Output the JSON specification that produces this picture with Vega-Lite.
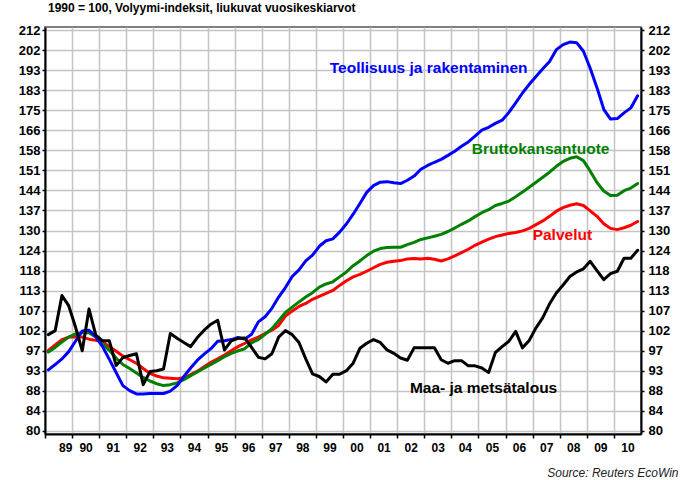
{
  "$schema": "https://vega.github.io/schema/vega-lite/v6.json",
  "width": 596,
  "height": 407,
  "autosize": {"type": "none"},
  "padding": {"left": 45, "top": 27, "right": 41, "bottom": 46},
  "background": "white",
  "title": {
    "text": "1990 = 100, Volyymi-indeksit, liukuvat vuosikeskiarvot",
    "anchor": "start",
    "frame": "group",
    "dx": 3,
    "offset": 9,
    "fontSize": 12,
    "font": "Liberation Sans",
    "fontWeight": "bold",
    "color": "#000000"
  },
  "config": {
    "view": {"stroke": "#555555", "strokeWidth": 1.5},
    "axis": {
      "labelFont": "Liberation Sans",
      "labelFontWeight": "bold",
      "labelColor": "#000000",
      "domainColor": "#000000",
      "domainWidth": 2,
      "tickColor": "#000000",
      "tickWidth": 1.5,
      "gridColor": "#c4c4c4",
      "gridWidth": 1.5
    }
  },
  "datasets": {
    "series": [
      {"t": 1989.125, "teo": 92.8, "bkt": 96.9, "pal": 97.3, "maa": 101.1},
      {"t": 1989.375, "teo": 94.0, "bkt": 98.0, "pal": 98.6, "maa": 102.1},
      {"t": 1989.625, "teo": 95.3, "bkt": 99.3, "pal": 99.9, "maa": 111.2},
      {"t": 1989.875, "teo": 97.0, "bkt": 100.5, "pal": 100.5, "maa": 108.5},
      {"t": 1990.125, "teo": 99.5, "bkt": 101.3, "pal": 100.6, "maa": 103.0},
      {"t": 1990.375, "teo": 102.0, "bkt": 101.6, "pal": 100.5, "maa": 97.2},
      {"t": 1990.625, "teo": 102.2, "bkt": 101.6, "pal": 100.0, "maa": 107.6},
      {"t": 1990.875, "teo": 100.6, "bkt": 100.5, "pal": 99.7, "maa": 101.0},
      {"t": 1991.125, "teo": 98.2, "bkt": 98.9, "pal": 99.3, "maa": 99.6},
      {"t": 1991.375, "teo": 95.2, "bkt": 97.3, "pal": 98.2, "maa": 99.6},
      {"t": 1991.625, "teo": 92.2, "bkt": 95.5, "pal": 97.1, "maa": 93.8},
      {"t": 1991.875, "teo": 89.3, "bkt": 94.0, "pal": 96.0, "maa": 95.6},
      {"t": 1992.125, "teo": 88.2, "bkt": 93.1, "pal": 95.1, "maa": 96.1},
      {"t": 1992.375, "teo": 87.5, "bkt": 92.1, "pal": 94.3, "maa": 96.5},
      {"t": 1992.625, "teo": 87.5, "bkt": 91.1, "pal": 93.1, "maa": 89.5},
      {"t": 1992.875, "teo": 87.6, "bkt": 90.3, "pal": 92.0, "maa": 92.4},
      {"t": 1993.125, "teo": 87.6, "bkt": 89.7, "pal": 91.4, "maa": 92.6},
      {"t": 1993.375, "teo": 87.6, "bkt": 89.3, "pal": 91.0, "maa": 93.0},
      {"t": 1993.625, "teo": 88.1, "bkt": 89.5, "pal": 90.9, "maa": 101.4},
      {"t": 1993.875, "teo": 89.3, "bkt": 89.9, "pal": 90.8, "maa": 100.2},
      {"t": 1994.125, "teo": 91.3, "bkt": 90.6, "pal": 91.0, "maa": 99.2},
      {"t": 1994.375, "teo": 93.2, "bkt": 91.5, "pal": 91.7, "maa": 98.2},
      {"t": 1994.625, "teo": 95.0, "bkt": 92.3, "pal": 92.5, "maa": 100.4},
      {"t": 1994.875, "teo": 96.4, "bkt": 93.2, "pal": 93.5, "maa": 102.2},
      {"t": 1995.125, "teo": 97.7, "bkt": 94.0, "pal": 94.5, "maa": 103.7},
      {"t": 1995.375, "teo": 99.5, "bkt": 94.9, "pal": 95.3, "maa": 104.7},
      {"t": 1995.625, "teo": 99.6, "bkt": 95.8, "pal": 96.2, "maa": 97.4},
      {"t": 1995.875, "teo": 99.9, "bkt": 96.6, "pal": 97.2, "maa": 99.6},
      {"t": 1996.125, "teo": 100.4, "bkt": 97.2, "pal": 98.2, "maa": 100.2},
      {"t": 1996.375, "teo": 100.0, "bkt": 97.7, "pal": 99.0, "maa": 100.3},
      {"t": 1996.625, "teo": 101.2, "bkt": 99.1, "pal": 99.8, "maa": 98.0},
      {"t": 1996.875, "teo": 104.3, "bkt": 99.9, "pal": 100.5, "maa": 95.7},
      {"t": 1997.125, "teo": 105.6, "bkt": 101.2, "pal": 101.4, "maa": 95.3},
      {"t": 1997.375, "teo": 107.8, "bkt": 102.6, "pal": 102.2, "maa": 96.5},
      {"t": 1997.625, "teo": 110.8, "bkt": 104.6, "pal": 103.4, "maa": 100.5},
      {"t": 1997.875, "teo": 113.4, "bkt": 106.7, "pal": 105.8, "maa": 102.1},
      {"t": 1998.125, "teo": 116.5, "bkt": 108.1, "pal": 107.1, "maa": 101.1},
      {"t": 1998.375, "teo": 118.4, "bkt": 109.5, "pal": 108.3, "maa": 99.2},
      {"t": 1998.625, "teo": 121.0, "bkt": 110.8, "pal": 109.1, "maa": 95.3},
      {"t": 1998.875, "teo": 122.7, "bkt": 112.0, "pal": 110.2, "maa": 91.9},
      {"t": 1999.125, "teo": 125.4, "bkt": 113.5, "pal": 111.0, "maa": 91.3},
      {"t": 1999.375, "teo": 127.1, "bkt": 114.4, "pal": 111.8, "maa": 90.1},
      {"t": 1999.625, "teo": 127.7, "bkt": 115.0, "pal": 112.6, "maa": 91.8},
      {"t": 1999.875, "teo": 129.8, "bkt": 116.4, "pal": 114.0, "maa": 91.8},
      {"t": 2000.125, "teo": 132.4, "bkt": 117.8, "pal": 115.3, "maa": 92.6},
      {"t": 2000.375, "teo": 135.6, "bkt": 119.6, "pal": 116.4, "maa": 94.3},
      {"t": 2000.625, "teo": 139.2, "bkt": 121.0, "pal": 117.1, "maa": 97.8},
      {"t": 2000.875, "teo": 143.0, "bkt": 122.6, "pal": 118.0, "maa": 99.0},
      {"t": 2001.125, "teo": 145.4, "bkt": 123.9, "pal": 119.0, "maa": 99.9},
      {"t": 2001.375, "teo": 146.6, "bkt": 124.7, "pal": 120.0, "maa": 99.2},
      {"t": 2001.625, "teo": 146.8, "bkt": 125.0, "pal": 120.6, "maa": 97.4},
      {"t": 2001.875, "teo": 146.4, "bkt": 125.1, "pal": 120.9, "maa": 96.6},
      {"t": 2002.125, "teo": 146.1, "bkt": 125.1, "pal": 121.1, "maa": 95.5},
      {"t": 2002.375, "teo": 147.3, "bkt": 125.9, "pal": 121.6, "maa": 95.0},
      {"t": 2002.625, "teo": 148.8, "bkt": 126.6, "pal": 121.7, "maa": 97.9},
      {"t": 2002.875, "teo": 151.3, "bkt": 127.5, "pal": 121.6, "maa": 97.9},
      {"t": 2003.125, "teo": 152.7, "bkt": 128.0, "pal": 121.8, "maa": 97.9},
      {"t": 2003.375, "teo": 153.9, "bkt": 128.5, "pal": 121.5, "maa": 97.9},
      {"t": 2003.625, "teo": 155.0, "bkt": 129.1, "pal": 121.0, "maa": 95.1},
      {"t": 2003.875, "teo": 156.5, "bkt": 130.0, "pal": 121.6, "maa": 94.3},
      {"t": 2004.125, "teo": 158.1, "bkt": 131.1, "pal": 122.5, "maa": 94.9},
      {"t": 2004.375, "teo": 160.0, "bkt": 132.3, "pal": 123.5, "maa": 94.9},
      {"t": 2004.625, "teo": 161.7, "bkt": 133.4, "pal": 124.5, "maa": 93.7},
      {"t": 2004.875, "teo": 164.0, "bkt": 134.8, "pal": 125.7, "maa": 93.7},
      {"t": 2005.125, "teo": 166.4, "bkt": 136.1, "pal": 126.7, "maa": 93.2},
      {"t": 2005.375, "teo": 167.6, "bkt": 137.1, "pal": 127.6, "maa": 92.2},
      {"t": 2005.625, "teo": 169.2, "bkt": 138.5, "pal": 128.4, "maa": 96.8},
      {"t": 2005.875, "teo": 170.5, "bkt": 139.2, "pal": 128.9, "maa": 98.2},
      {"t": 2006.125, "teo": 173.8, "bkt": 140.0, "pal": 129.4, "maa": 99.5},
      {"t": 2006.375, "teo": 177.9, "bkt": 141.5, "pal": 129.7, "maa": 101.9},
      {"t": 2006.625, "teo": 182.2, "bkt": 143.1, "pal": 130.2, "maa": 97.9},
      {"t": 2006.875, "teo": 186.1, "bkt": 144.8, "pal": 131.0, "maa": 99.7},
      {"t": 2007.125, "teo": 189.7, "bkt": 146.6, "pal": 132.2, "maa": 102.8},
      {"t": 2007.375, "teo": 193.3, "bkt": 148.4, "pal": 133.4, "maa": 105.4},
      {"t": 2007.625, "teo": 196.7, "bkt": 150.2, "pal": 134.9, "maa": 109.0},
      {"t": 2007.875, "teo": 202.5, "bkt": 152.4, "pal": 136.6, "maa": 111.9},
      {"t": 2008.125, "teo": 205.0, "bkt": 154.2, "pal": 137.8, "maa": 114.1},
      {"t": 2008.375, "teo": 206.3, "bkt": 155.4, "pal": 138.6, "maa": 116.5},
      {"t": 2008.625, "teo": 206.0, "bkt": 156.0, "pal": 139.1, "maa": 117.8},
      {"t": 2008.875, "teo": 201.7, "bkt": 154.5, "pal": 138.5, "maa": 118.7},
      {"t": 2009.125, "teo": 193.5, "bkt": 150.6, "pal": 136.7, "maa": 120.9},
      {"t": 2009.375, "teo": 184.6, "bkt": 146.5, "pal": 134.9, "maa": 118.2},
      {"t": 2009.625, "teo": 175.1, "bkt": 143.5, "pal": 132.5, "maa": 115.6},
      {"t": 2009.875, "teo": 171.0, "bkt": 141.9, "pal": 131.0, "maa": 117.3},
      {"t": 2010.125, "teo": 171.2, "bkt": 142.0, "pal": 130.6, "maa": 118.0},
      {"t": 2010.375, "teo": 173.6, "bkt": 143.6, "pal": 131.2, "maa": 121.8},
      {"t": 2010.625, "teo": 175.7, "bkt": 144.5, "pal": 132.0, "maa": 121.8},
      {"t": 2010.875, "teo": 181.0, "bkt": 146.1, "pal": 133.2, "maa": 124.2}
    ],
    "labels": [
      {"t": 1999.51, "v": 193.5, "label": "Teollisuus ja rakentaminen"},
      {"t": 2004.75, "v": 159.1, "label": "Bruttokansantuote"},
      {"t": 2007.0, "v": 129.0, "label": "Palvelut"},
      {"t": 2002.47, "v": 88.8, "label": "Maa- ja metsätalous"}
    ]
  },
  "resolve": {"scale": {"y": "shared", "x": "shared"}, "axis": {"y": "independent", "x": "independent"}},
  "layer": [
    {
      "data": {"name": "series"},
      "mark": {"type": "line", "color": "#ff0000", "strokeWidth": 3, "strokeJoin": "round", "strokeCap": "round"},
      "encoding": {
        "x": {
          "field": "t", "type": "quantitative",
          "scale": {"domain": [1989, 2011], "nice": false, "zero": false},
          "axis": {
            "orient": "bottom",
            "title": "Source: Reuters EcoWin",
            "titleFont": "Liberation Sans",
            "titleFontStyle": "italic",
            "titleFontWeight": "normal",
            "titleFontSize": 12,
            "titleColor": "#222222",
            "titleAlign": "right",
            "titleAnchor": "end",
            "titleX": 633,
            "titleY": 42,
            "titleBaseline": "alphabetic",
            "values": [1989, 1990, 1991, 1992, 1993, 1994, 1995, 1996, 1997, 1998, 1999, 2000, 2001, 2002, 2003, 2004, 2005, 2006, 2007, 2008, 2009, 2010],
            "labelExpr": "format(datum.value % 100, '02d')",
            "labelOffset": 13.5,
            "labelFontSize": 12,
            "labelPadding": 4,
            "tickSize": 4,
            "grid": true
          }
        },
        "y": {
          "field": "pal", "type": "quantitative",
          "scale": {"type": "log", "domain": [79.36, 214.0], "nice": false, "zero": false},
          "axis": {
            "orient": "left",
            "title": null,
            "values": [80, 84, 88.2, 92.61, 97.24, 102.1, 107.2, 112.57, 118.2, 124.11, 130.31, 136.83, 143.67, 150.86, 158.4, 166.32, 174.63, 183.36, 192.53, 202.16, 212.26],
            "format": ".0f",
            "labelFontSize": 13,
            "labelPadding": 2,
            "tickSize": 3,
            "grid": true
          }
        }
      }
    },
    {
      "data": {"name": "series"},
      "mark": {"type": "line", "color": "#008000", "strokeWidth": 3, "strokeJoin": "round", "strokeCap": "round"},
      "encoding": {
        "x": {"field": "t", "type": "quantitative", "axis": null},
        "y": {
          "field": "bkt", "type": "quantitative",
          "axis": {
            "orient": "right",
            "title": null,
            "values": [80, 84, 88.2, 92.61, 97.24, 102.1, 107.2, 112.57, 118.2, 124.11, 130.31, 136.83, 143.67, 150.86, 158.4, 166.32, 174.63, 183.36, 192.53, 202.16, 212.26],
            "format": ".0f",
            "labelFontSize": 13,
            "labelPadding": 4,
            "tickSize": 3,
            "grid": false
          }
        }
      }
    },
    {
      "data": {"name": "series"},
      "mark": {"type": "line", "color": "#0000ff", "strokeWidth": 3, "strokeJoin": "round", "strokeCap": "round"},
      "encoding": {
        "x": {"field": "t", "type": "quantitative", "axis": null},
        "y": {"field": "teo", "type": "quantitative", "axis": null}
      }
    },
    {
      "data": {"name": "series"},
      "mark": {"type": "line", "color": "#000000", "strokeWidth": 3, "strokeJoin": "round", "strokeCap": "round"},
      "encoding": {
        "x": {"field": "t", "type": "quantitative", "axis": null},
        "y": {"field": "maa", "type": "quantitative", "axis": null}
      }
    },
    {
      "data": {"name": "labels"},
      "mark": {"type": "text", "align": "left", "baseline": "middle", "font": "Liberation Sans", "fontWeight": "bold", "fontSize": 15.5},
      "encoding": {
        "x": {"field": "t", "type": "quantitative", "axis": null},
        "y": {"field": "v", "type": "quantitative", "axis": null},
        "text": {"field": "label"},
        "color": {
          "field": "label", "type": "nominal", "legend": null,
          "scale": {
            "domain": ["Teollisuus ja rakentaminen", "Bruttokansantuote", "Palvelut", "Maa- ja metsätalous"],
            "range": ["#0000ff", "#008000", "#ff0000", "#000000"]
          }
        }
      }
    }
  ]
}
